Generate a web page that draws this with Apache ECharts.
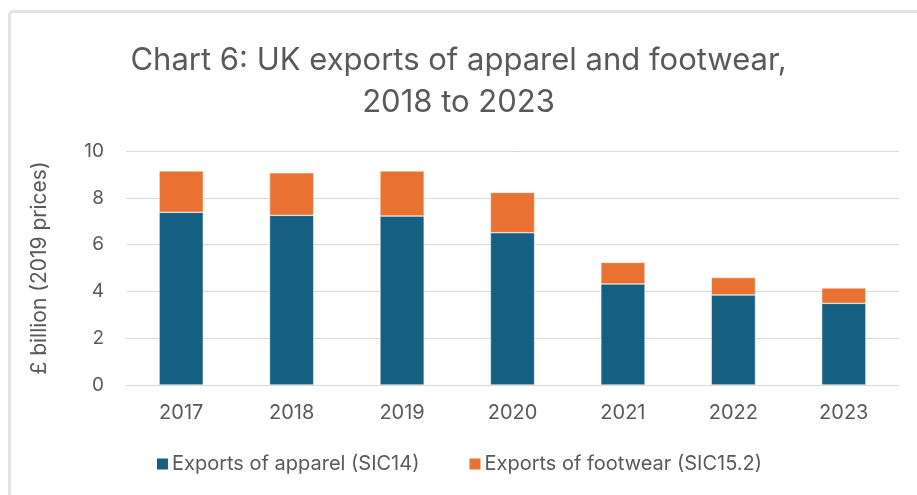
<!DOCTYPE html>
<html>
<head>
<meta charset="utf-8">
<script src="https://cdn.jsdelivr.net/npm/echarts@6/dist/echarts.min.js"></script>
<style>
  html, body { margin: 0; padding: 0; background: #ffffff; }
  #chart { width: 917px; height: 495px; }
</style>
</head>
<body>
<div id="chart"></div>
<script>
// UK exports of apparel and footwear, £ billion at 2019 prices
const years = ['2017', '2018', '2019', '2020', '2021', '2022', '2023'];
const apparel = [7.38, 7.25, 7.22, 6.51, 4.32, 3.85, 3.49];
const footwear = [1.77, 1.82, 1.93, 1.72, 0.92, 0.74, 0.66];
const yTicks = [0, 2, 4, 6, 8, 10];

const textColor = '#595959';
const font = 'Inter, "Open Sans", Arial, sans-serif';

const chart = echarts.init(document.getElementById('chart'), null, { renderer: 'canvas' });
chart.setOption({
  backgroundColor: '#ffffff',
  animation: false,
  graphic: [{
    type: 'rect',
    shape: { x: 9.5, y: 11.5, width: 1000, height: 600, r: 4 },
    style: { fill: 'none', stroke: '#e3e3e3', lineWidth: 3 },
    silent: true
  }],
  title: {
    text: 'Chart 6: UK exports of apparel and footwear,\n2018 to 2023',
    left: 'center',
    top: 35,
    textStyle: {
      color: textColor,
      fontFamily: font,
      fontWeight: 'normal',
      fontSize: 31,
      lineHeight: 42
    }
  },
  legend: {
    bottom: 16,
    left: 'center',
    itemWidth: 13,
    itemHeight: 13,
    itemGap: 48,
    icon: 'rect',
    textStyle: { color: textColor, fontFamily: font, fontSize: 20, padding: [0, 0, 0, -2] },
    data: ['Exports of apparel (SIC14)', 'Exports of footwear (SIC15.2)']
  },
  grid: { left: 126, right: 18, top: 151, bottom: 110 },
  xAxis: {
    type: 'category',
    data: years,
    axisLine: { show: true, lineStyle: { color: '#d9d9d9', width: 1 } },
    axisTick: { show: false },
    axisLabel: { color: textColor, fontFamily: font, fontSize: 20, margin: 18 }
  },
  yAxis: {
    type: 'value',
    min: yTicks[0],
    max: yTicks[yTicks.length - 1],
    interval: 2,
    name: '£ billion (2019 prices)',
    nameLocation: 'middle',
    nameGap: 76,
    nameRotate: 90,
    nameTextStyle: { color: textColor, fontFamily: font, fontSize: 21 },
    axisLine: { show: false },
    axisTick: { show: false },
    splitLine: { lineStyle: { color: '#d9d9d9', width: 1 } },
    axisLabel: { color: textColor, fontFamily: font, fontSize: 19, margin: 22 }
  },
  series: [
    {
      name: 'Exports of apparel (SIC14)',
      type: 'bar',
      stack: 'total',
      data: apparel,
      barWidth: '40%',
      itemStyle: { color: '#156082', borderColor: '#ffffff', borderWidth: 0.5 }
    },
    {
      name: 'Exports of footwear (SIC15.2)',
      type: 'bar',
      stack: 'total',
      data: footwear,
      barWidth: '40%',
      itemStyle: { color: '#E97132', borderColor: '#ffffff', borderWidth: 0.5 }
    }
  ]
});
</script>
</body>
</html>
